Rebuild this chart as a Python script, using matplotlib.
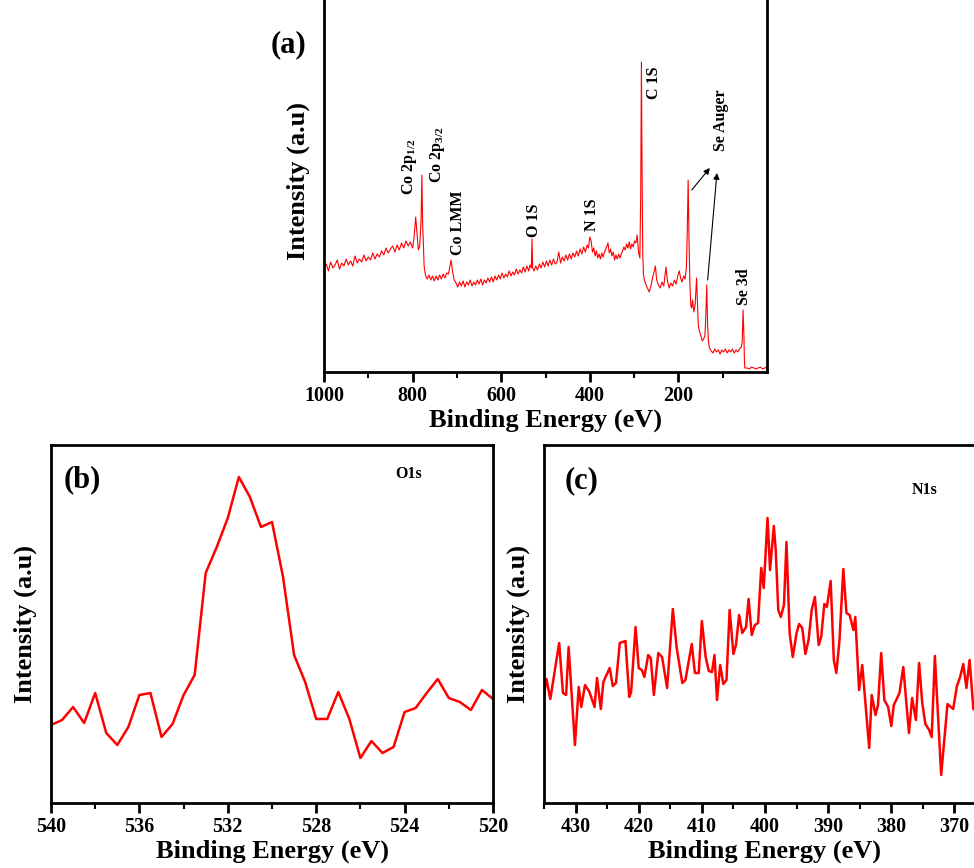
import numpy as np
import matplotlib.pyplot as plt
from matplotlib.ticker import MultipleLocator, FixedLocator

plt.rcParams['font.family'] = ['Liberation Serif', 'DejaVu Serif']
plt.rcParams['font.weight'] = 'bold'
plt.rcParams['mathtext.fontset'] = 'custom'
plt.rcParams['mathtext.rm'] = 'Liberation Serif:bold'
plt.rcParams['mathtext.it'] = 'Liberation Serif:bold:italic'
plt.rcParams['mathtext.bf'] = 'Liberation Serif:bold'

# (a) survey spectrum: binding energy (eV) and counts (a.u.)
survey_be = [
    1000, 995, 990, 985, 980, 975, 970, 965, 960, 955, 950, 945, 940, 935, 930,
    925, 920, 915, 910, 905, 900, 895, 890, 885, 880, 875, 870, 865, 860, 855,
    850, 845, 840, 835, 830, 825, 820, 815, 810, 805, 800, 797, 793, 790, 787,
    784, 781, 779, 777.5, 776, 774, 771, 767, 763, 759, 755, 751, 747, 743, 739,
    735, 731, 727, 723, 719, 716, 713, 710, 706, 702, 698, 694, 690, 686, 682,
    678, 674, 670, 666, 662, 658, 654, 650, 646, 642, 638, 634, 630, 626, 622,
    618, 614, 610, 606, 602, 598, 594, 590, 586, 582, 578, 574, 570, 566, 562,
    558, 554, 550, 546, 542, 538, 535, 532, 530.5, 529, 526, 522, 518, 514, 510,
    506, 502, 498, 494, 490, 486, 482, 478, 474, 470, 466, 462, 458, 454, 450,
    446, 442, 438, 434, 430, 426, 422, 418, 414, 410, 406, 403, 400, 397, 394,
    391, 388, 385, 382, 379, 376, 373, 370, 366, 362, 359, 356, 353, 350, 347,
    344, 341, 338, 335, 332, 329, 326, 323, 320, 317, 314, 311, 308, 305, 302,
    299, 296, 293, 290, 287, 285, 283.5, 282, 280.5, 279, 277, 274, 270, 266, 262,
    258, 255, 252, 249, 245, 241, 237, 233, 230, 228, 225, 221, 217, 213, 209,
    205, 201, 198, 195, 192, 188, 185, 182, 180, 178, 176, 174, 172, 170, 168,
    165, 162, 159, 157, 155, 152, 149, 146, 143, 140, 138, 136, 134, 132, 130,
    126, 122, 118, 114, 110, 106, 102, 98, 94, 90, 86, 82, 78, 74, 70,
    66, 62, 58, 56, 54, 52, 51, 50, 45, 40, 35, 30, 25, 20, 15,
    10, 5, 2,
]
survey_counts = [
    103, 108, 101, 110, 104, 107, 112, 103, 109, 106, 113, 107, 111, 106, 116,
    109, 113, 110, 117, 111, 115, 112, 119, 113, 118, 115, 121, 117, 124, 119,
    123, 126, 120, 127, 122, 129, 124, 131, 126, 130, 124, 133, 155, 138, 122,
    126, 150, 197, 150, 133, 106, 97, 93, 97, 92, 96, 91, 96, 92, 97,
    93, 98, 94, 99, 98, 105, 112, 101, 92, 89, 85, 90, 86, 91, 85,
    90, 87, 92, 86, 90, 87, 92, 88, 93, 87, 92, 89, 94, 90, 95,
    90, 96, 92, 97, 93, 99, 94, 98, 95, 101, 96, 100, 97, 103, 98,
    102, 99, 105, 100, 106, 101, 107, 104, 133, 104, 101, 106, 102, 108, 104,
    110, 105, 111, 106, 112, 107, 113, 108, 110, 120, 109, 115, 111, 117, 112,
    118, 113, 119, 115, 121, 116, 123, 118, 125, 120, 127, 124, 135, 131, 120,
    124, 116, 121, 114, 118, 113, 119, 115, 121, 125, 129, 119, 123, 116, 120,
    112, 117, 113, 118, 114, 118, 121, 125, 122, 128, 124, 130, 123, 128, 125,
    131, 129, 137, 120, 114, 180, 310, 200, 120, 98, 92, 88, 84, 80, 86,
    95, 100, 106, 92, 87, 84, 90, 86, 97, 105, 92, 84, 89, 86, 92,
    88, 97, 101, 94, 90, 96, 93, 104, 140, 192, 130, 88, 66, 64, 72,
    60, 68, 94, 70, 46, 40, 36, 31, 33, 37, 58, 87, 46, 30, 24,
    21, 19, 23, 20, 22, 18, 22, 20, 23, 19, 22, 20, 23, 19, 22,
    20, 23, 25, 30, 62, 34, 12, 4, 4, 3, 5, 4, 3, 4, 5,
    3, 4, 5,
]

# (b) O 1s high-resolution scan
o1s_be = [
    540.0, 539.5, 539.0, 538.5, 538.0, 537.5, 537.0, 536.5, 536.0, 535.5,
    535.0, 534.5, 534.0, 533.5, 533.0, 532.5, 532.0, 531.5, 531.0, 530.5,
    530.0, 529.5, 529.0, 528.5, 528.0, 527.5, 527.0, 526.5, 526.0, 525.5,
    525.0, 524.5, 524.0, 523.5, 523.0, 522.5, 522.0, 521.5, 521.0, 520.5,
    520.0,
]
o1s_counts = [
    78, 83, 96, 80, 110, 70, 58, 76, 108, 110,
    66, 79, 108, 128, 230, 256, 285, 326, 306, 276,
    281, 226, 148, 121, 84, 84, 111, 84, 45, 62,
    50, 56, 91, 95, 110, 124, 105, 101, 93, 113,
    104,
]

# (c) N 1s high-resolution scan
n1s_be = [
    435.2, 434.6, 434.0, 432.6, 432.0, 431.5, 431.1, 430.1, 429.5, 429.1,
    428.5, 427.8, 427.0, 426.6, 426.0, 425.6, 424.6, 424.1, 423.6, 423.0,
    422.1, 421.5, 421.2, 420.5, 420.0, 419.5, 419.1, 418.5, 418.1, 417.6,
    416.9, 416.3, 415.5, 414.6, 414.0, 413.1, 412.6, 411.6, 411.1, 410.5,
    410.0, 409.4, 408.9, 408.4, 408.0, 407.6, 407.1, 406.6, 406.1, 405.6,
    405.0, 404.6, 404.1, 403.6, 403.0, 402.6, 402.1, 401.6, 401.1, 400.6,
    400.2, 399.6, 399.2, 398.6, 398.3, 397.9, 397.5, 397.0, 396.6, 396.1,
    395.6, 395.0, 394.6, 394.1, 393.6, 393.1, 392.6, 392.1, 391.5, 391.1,
    390.6, 390.2, 389.6, 389.1, 388.7, 388.2, 387.6, 387.1, 386.6, 386.0,
    385.7, 385.1, 384.6, 383.5, 383.1, 382.5, 382.1, 381.6, 381.1, 380.5,
    380.0, 379.6, 378.7, 378.1, 377.2, 376.7, 376.1, 375.6, 375.1, 374.6,
    374.0, 373.6, 373.1, 372.1, 371.1, 370.2, 369.6, 369.1, 368.6, 368.1,
    367.6, 367.0,
]
n1s_counts = [
    100, 124, 104, 160, 110, 108, 156, 58, 116, 96,
    118, 111, 96, 125, 94, 121, 135, 117, 120, 160,
    162, 106, 111, 176, 135, 133, 126, 148, 145, 108,
    150, 146, 115, 194, 156, 120, 123, 159, 130, 130,
    182, 146, 132, 131, 148, 103, 138, 119, 123, 193,
    149, 158, 188, 170, 176, 204, 168, 178, 180, 235,
    215, 285, 233, 277, 253, 193, 186, 198, 261, 170,
    146, 170, 179, 175, 149, 163, 193, 206, 158, 166,
    199, 196, 222, 143, 130, 163, 234, 190, 188, 173,
    186, 113, 138, 55, 108, 88, 98, 150, 103, 96,
    77, 98, 110, 136, 70, 105, 83, 140, 100, 79,
    73, 66, 147, 28, 99, 94, 117, 126, 139, 115,
    143, 94,
]

W, H = 974, 868
fig = plt.figure(figsize=(W / 100, H / 100), dpi=100)


def add_box(left, top, right, bottom):
    # axes placed by pixel edges of the canvas
    return fig.add_axes([left / W, 1 - bottom / H, (right - left) / W, (bottom - top) / H])


def style(ax, major, minor):
    for sp in ax.spines.values():
        sp.set_linewidth(2)
    ax.xaxis.set_major_locator(major)
    ax.xaxis.set_minor_locator(minor)
    ax.tick_params(axis='x', which='major', direction='out', length=7, width=2,
                   labelsize=14.5, pad=3)
    ax.tick_params(axis='x', which='minor', direction='out', length=4, width=1.5)
    ax.tick_params(axis='y', which='both', left=False, labelleft=False)
    ax.set_xlabel('Binding Energy (eV)', fontsize=19, fontweight='bold', labelpad=2)
    ax.set_ylabel('Intensity (a.u)', fontsize=19, fontweight='bold', labelpad=10)


red = '#ff0000'

# ---- (a) survey
ax_a = add_box(324, -10, 767, 372)
ax_a.plot(survey_be, survey_counts, color=red, lw=0.8)
ax_a.set_xlim(1000, 0)
ax_a.set_ylim(0, 382)
style(ax_a, FixedLocator([1000, 800, 600, 400, 200]),
      FixedLocator([900, 700, 500, 300, 100]))

peak_labels = [
    ('Co 2p$_{1/2}$', 807, 177),
    ('Co 2p$_{3/2}$', 744, 189),
    ('Co LMM', 698, 117),
    ('O 1S', 527, 135),
    ('N 1S', 395, 141),
    ('C 1S', 254, 273),
    ('Se Auger', 104, 221),
    ('Se 3d', 51, 67),
]
for txt, be, y in peak_labels:
    ax_a.text(be, y, txt, rotation=90, ha='center', va='bottom',
              fontsize=11.5, fontweight='bold')

arrow = dict(arrowstyle='-|>', color='black', lw=0.8, mutation_scale=9,
             shrinkA=0, shrinkB=0)
ax_a.annotate('', xy=(129, 204), xytext=(170, 182), arrowprops=arrow)
ax_a.annotate('', xy=(113, 199), xytext=(134, 92), arrowprops=arrow)

# ---- (b) O 1s
ax_b = add_box(51, 445, 493, 803)
ax_b.plot(o1s_be, o1s_counts, color=red, lw=1.8)
ax_b.set_xlim(540, 520)
ax_b.set_ylim(0, 358)
style(ax_b, MultipleLocator(4), MultipleLocator(2))
ax_b.text(523.8, 329, 'O1s', ha='center', va='center', fontsize=11.5, fontweight='bold')

# ---- (c) N 1s
ax_c = add_box(544, 445, 986, 803)
ax_c.plot(n1s_be, n1s_counts, color=red, lw=1.8)
ax_c.set_xlim(435, 365)
ax_c.set_ylim(0, 358)
style(ax_c, MultipleLocator(10), MultipleLocator(5))
ax_c.text(374.7, 313, 'N1s', ha='center', va='center', fontsize=11.5, fontweight='bold')

# panel letters
for txt, x, y in [('(a)', 288, 45), ('(b)', 82, 480), ('(c)', 582, 481)]:
    fig.text(x / W, 1 - y / H, txt, ha='center', va='center', fontsize=22, fontweight='bold')

fig.savefig('out.png', dpi=100)
